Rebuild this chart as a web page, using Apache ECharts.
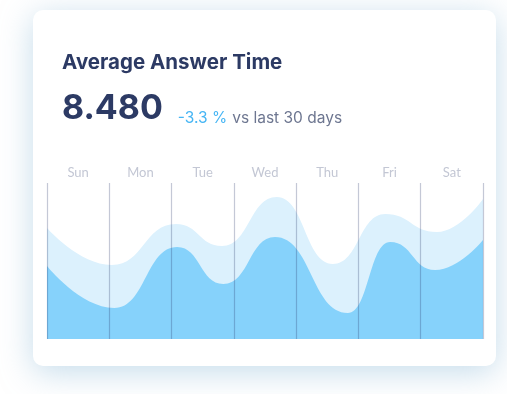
<!DOCTYPE html>
<html>
<head>
<meta charset="utf-8">
<script src="https://cdn.jsdelivr.net/npm/echarts@6/dist/echarts.min.js"></script>
<style>
  html, body { margin: 0; padding: 0; width: 507px; height: 394px; background: #ffffff; overflow: hidden; }
  #card { position: absolute; left: 33px; top: 10px; width: 463px; height: 356px; background: #fff; border-radius: 10px;
          box-shadow: 0 6px 32px rgba(140, 185, 215, 0.5); }
  #chart { position: absolute; left: 0; top: 0; width: 507px; height: 394px; }
</style>
</head>
<body>
<div id="card"></div>
<div id="chart"></div>
<script>
// Data
const titleText = 'Average Answer Time';
const valueText = '8.480';
const changeText = '-3.3 %';
const compareText = 'vs last 30 days';
const days = ['Sun', 'Mon', 'Tue', 'Wed', 'Thu', 'Fri', 'Sat'];

// positions along the week (0 = start of Sun, 7 = end of Sat) and values
const backX = [0, 1.04, 2.07, 2.81, 3.69, 4.59, 5.43, 6.26, 7];
const backY = [111, 74, 115, 93, 142, 75, 125, 107, 140];
const frontX = [0, 1.08, 2.09, 2.83, 3.66, 4.83, 5.51, 6.23, 7];
const frontY = [73, 31, 92, 55, 102, 26, 97, 69, 99];

const pair = (xs, ys) => xs.map((x, i) => [x, ys[i]]);

const chart = echarts.init(document.getElementById('chart'), null, { renderer: 'canvas' });
chart.setOption({
  animation: false,
  title: [
    { text: titleText, left: 57, top: 47,
      textStyle: { fontFamily: 'Inter', fontWeight: 700, fontSize: 20.5, color: '#2c3a64' } },
    { text: '{big|' + valueText + '}{gap|}{chg|' + changeText + '} {cmp|' + compareText + '}', left: 57, top: 81,
      textStyle: { rich: {
        big: { fontFamily: 'Inter', fontWeight: 700, fontSize: 34, color: '#2c3a64', verticalAlign: 'bottom', lineHeight: 40 },
        gap: { width: 15, lineHeight: 34 },
        chg: { fontFamily: 'Inter', fontWeight: 400, fontSize: 15.5, color: '#45b5f4', verticalAlign: 'bottom', lineHeight: 34 },
        cmp: { fontFamily: 'Inter', fontWeight: 400, fontSize: 15.5, color: '#6d7690', verticalAlign: 'bottom', lineHeight: 34 }
      } } }
  ],
  grid: { left: 47, right: 24, top: 183, bottom: 55 },
  xAxis: [
    { type: 'category', data: days, position: 'top', boundaryGap: true, z: 5,
      axisLine: { show: false }, axisTick: { show: false },
      axisLabel: { margin: 4, color: '#c3c7d4', fontFamily: 'Lato', fontSize: 13 },
      splitLine: { show: true, lineStyle: { color: 'rgba(42,58,106,0.28)', width: 1.2 } } },
    { type: 'value', min: 0, max: 7, show: false }
  ],
  yAxis: { type: 'value', min: 0, max: 156, show: false },
  series: [
    { type: 'line', xAxisIndex: 1, data: pair(backX, backY), smooth: 0.5, smoothMonotone: 'x', symbol: 'none',
      lineStyle: { width: 0 }, areaStyle: { color: '#dcf1fd', opacity: 1 }, z: 2 },
    { type: 'line', xAxisIndex: 1, data: pair(frontX, frontY), smooth: 0.5, smoothMonotone: 'x', symbol: 'none',
      lineStyle: { width: 0 }, areaStyle: { color: '#86d2fb', opacity: 1 }, z: 3 }
  ]
});
</script>
</body>
</html>
